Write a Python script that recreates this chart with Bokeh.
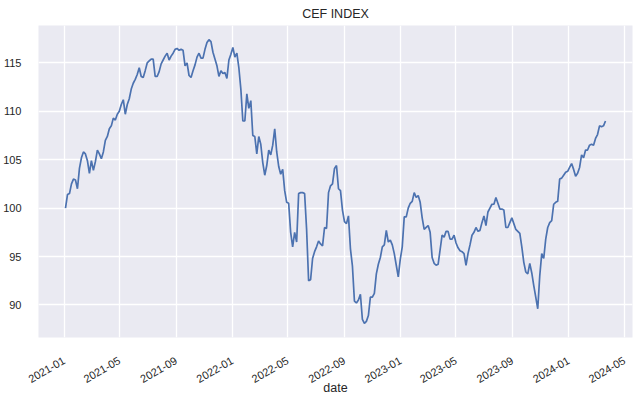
import math
import pandas as pd
from bokeh.plotting import figure
from bokeh.models import Range1d, DatetimeTickFormatter, MonthsTicker, SingleIntervalTicker
from bokeh.embed import file_html
from bokeh.resources import INLINE

TITLE = "CEF INDEX"
X_LABEL = "date"
START_DATE = "2021-01-04"
END_DATE = "2024-03-21"

# CEF index level at evenly spaced dates between START_DATE and END_DATE
VALUES = [
    100.0, 101.4, 101.5, 102.5, 103.0, 102.9, 102.0, 104.1, 105.2, 105.8,
    105.6, 104.9, 103.6, 104.9, 103.9, 104.8, 106.0, 105.6, 105.1, 105.8,
    107.0, 107.4, 108.2, 108.5, 109.3, 109.1, 109.7, 110.0, 110.7, 111.2,
    109.7, 110.7, 111.3, 112.3, 112.9, 113.3, 113.8, 114.5, 113.6, 113.5,
    114.2, 115.0, 115.2, 115.4, 115.4, 113.6, 113.6, 114.1, 114.9, 115.3,
    115.7, 116.0, 115.3, 115.7, 116.0, 116.4, 116.5, 116.3, 116.4, 116.3,
    114.7, 115.0, 113.7, 113.5, 114.2, 114.8, 115.6, 116.0, 115.5, 115.5,
    116.4, 117.1, 117.4, 117.2, 116.1, 115.4, 114.7, 113.6, 114.2, 113.9,
    114.0, 113.4, 115.3, 115.9, 116.6, 115.6, 116.0, 114.5, 112.3, 109.0,
    109.0, 111.8, 110.3, 111.1, 107.5, 107.4, 105.6, 107.4, 106.6, 104.7,
    103.4, 104.4, 106.0, 105.5, 106.5, 108.2, 105.8, 104.3, 103.5, 104.0,
    101.8, 100.6, 100.5, 97.5, 96.0, 97.5, 96.5, 101.5, 101.6, 101.6,
    101.5, 97.8, 92.5, 92.6, 94.8, 95.5, 96.0, 96.6, 96.3, 96.1,
    98.0, 97.9, 101.6, 102.3, 102.5, 104.1, 104.4, 102.0, 101.8, 99.8,
    98.6, 98.4, 99.2, 95.8, 94.0, 90.4, 90.2, 90.5, 91.1, 88.5,
    88.1, 88.3, 88.9, 90.8, 90.8, 91.2, 93.2, 94.2, 94.9, 96.0,
    96.2, 97.7, 96.5, 96.7, 96.2, 95.3, 94.1, 92.9, 94.7, 96.0,
    99.1, 99.1, 100.0, 100.5, 100.7, 101.6, 101.1, 101.3, 100.6, 99.0,
    97.8, 98.0, 98.2, 97.5, 94.9, 94.3, 94.1, 94.2, 95.7, 97.2,
    97.0, 97.6, 97.6, 96.8, 96.8, 97.2, 96.4, 95.9, 95.6, 95.5,
    95.3, 94.1, 95.3, 96.2, 97.2, 97.5, 98.0, 97.6, 97.7, 98.5,
    99.2, 98.2, 99.6, 100.0, 100.4, 100.4, 101.1, 100.5, 99.9, 99.9,
    99.8, 98.0, 98.0, 98.5, 99.0, 98.4, 97.8, 97.6, 97.4, 96.0,
    94.4, 93.4, 93.2, 94.3, 93.3, 92.0, 90.8, 89.6, 93.0, 95.3,
    94.8, 96.8, 98.0, 98.5, 98.7, 100.4, 100.6, 100.7, 103.0, 103.1,
    103.4, 103.7, 103.8, 104.2, 104.6, 104.0, 103.3, 103.6, 104.2, 105.5,
    105.2, 106.0, 106.0, 106.5, 106.6, 106.5, 107.2, 107.6, 108.5, 108.4,
    108.5, 109.0,
]
Y_TICK_INTERVAL = 5
X_TICK_MONTHS = [0, 4, 8]  # January, May, September (0-based for Bokeh)

dates = pd.date_range(START_DATE, END_DATE, periods=len(VALUES))

TEXT = "#262626"
FONT = "Liberation Sans"

t0, t1 = dates[0], dates[-1]
span = t1 - t0
ymin, ymax = min(VALUES), max(VALUES)
yspan = ymax - ymin

p = figure(
    frame_width=594, frame_height=312,
    x_axis_type="datetime",
    output_backend="svg", toolbar_location=None,
    title=TITLE,
    x_range=Range1d(t0 - span * 0.05, t1 + span * 0.05),
    y_range=Range1d(ymin - yspan * 0.05, ymax + yspan * 0.05),
    min_border_left=38, min_border_right=8, min_border_top=24, min_border_bottom=65,
)
p.background_fill_color = "#EAEAF2"
p.border_fill_color = "white"
p.outline_line_color = None

p.title.text_font = FONT
p.title.text_font_size = "12.5px"
p.title.text_font_style = "normal"
p.title.text_color = TEXT
p.title.align = "center"
p.title.standoff = 9

p.line(dates, VALUES, line_color="#4C72B0", line_width=1.7)

p.xaxis.ticker = MonthsTicker(months=X_TICK_MONTHS)
p.xaxis.formatter = DatetimeTickFormatter(months="%Y-%m", years="%Y-%m", days="%Y-%m")
p.xaxis.major_label_orientation = math.pi / 6
p.yaxis.ticker = SingleIntervalTicker(interval=Y_TICK_INTERVAL)
p.xaxis.axis_label = X_LABEL

for ax in (p.xaxis[0], p.yaxis[0]):
    ax.axis_line_color = None
    ax.major_tick_line_color = None
    ax.minor_tick_line_color = None
    ax.major_label_text_font = FONT
    ax.major_label_text_font_size = "11px"
    ax.major_label_text_color = TEXT
    ax.axis_label_text_font = FONT
    ax.axis_label_text_font_size = "12.5px"
    ax.axis_label_text_font_style = "normal"
    ax.axis_label_text_color = TEXT
p.yaxis.major_label_standoff = 11
p.xaxis.major_label_standoff = 16
p.xaxis.axis_label_standoff = -9

p.grid.grid_line_color = "white"
p.grid.grid_line_width = 1.3
p.grid.minor_grid_line_color = None

open("out.html", "w").write(file_html(p, INLINE))
